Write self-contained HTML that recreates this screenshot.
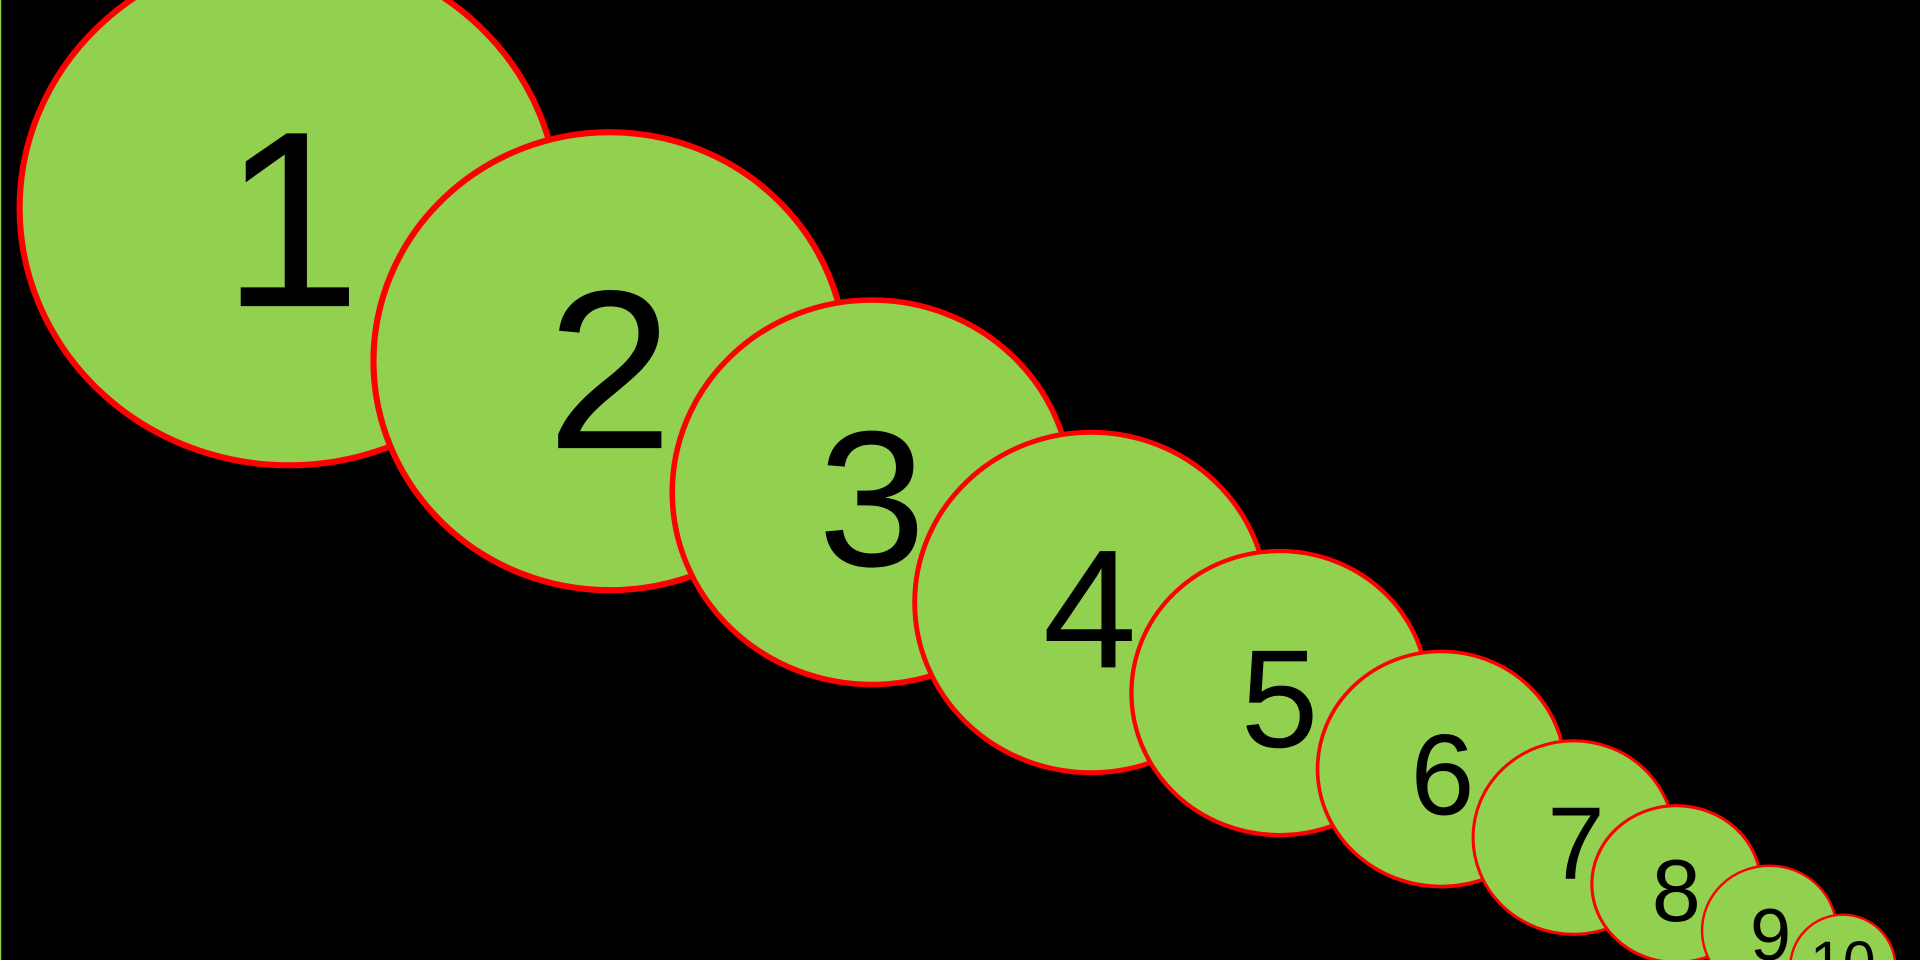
<!DOCTYPE html>
<html><head><meta charset="utf-8"><style>
html,body{margin:0;padding:0;background:#000;width:1920px;height:960px;overflow:hidden}
svg{display:block;overflow:hidden}
text{font-family:"Liberation Sans",sans-serif;fill:#000;text-anchor:middle}
</style></head><body>
<svg width="1920" height="960" viewBox="0 0 1568 784" preserveAspectRatio="none">
<rect x="0" y="0" width="1568" height="784" fill="#000"/>
<line x1="0.5" y1="0" x2="0.5" y2="784" stroke="#92d050" stroke-width="1"/>
<g fill="#92d050" stroke="#ff0000">
<ellipse cx="236" cy="170" rx="220" ry="210" stroke-width="5"/>
<text x="238" y="250" font-size="205" stroke="none">1</text>
<ellipse cx="498" cy="295" rx="193" ry="187" stroke-width="5"/>
<text x="498" y="366" font-size="185" stroke="none">2</text>
<ellipse cx="712" cy="402" rx="163" ry="157" stroke-width="4.5"/>
<text x="712" y="462" font-size="158" stroke="none">3</text>
<ellipse cx="891" cy="492" rx="144" ry="139" stroke-width="4"/>
<text x="890" y="545" font-size="138" stroke="none">4</text>
<ellipse cx="1045" cy="566" rx="121" ry="116" stroke-width="3.5"/>
<text x="1045" y="610" font-size="114" stroke="none">5</text>
<ellipse cx="1177" cy="628" rx="101" ry="96" stroke-width="3"/>
<text x="1178" y="665" font-size="94" stroke="none">6</text>
<ellipse cx="1285" cy="684" rx="82" ry="79" stroke-width="2.5"/>
<text x="1287" y="718" font-size="84" stroke="none">7</text>
<ellipse cx="1369" cy="722" rx="69" ry="64" stroke-width="2.5"/>
<text x="1369" y="752" font-size="72" stroke="none">8</text>
<ellipse cx="1445" cy="760" rx="55" ry="53" stroke-width="2"/>
<text x="1446" y="784" font-size="60" stroke="none">9</text>
<ellipse cx="1505" cy="790" rx="43" ry="43" stroke-width="2"/>
<text x="1505" y="802" font-size="48" stroke="none">10</text>
</g>
</svg>
</body></html>
